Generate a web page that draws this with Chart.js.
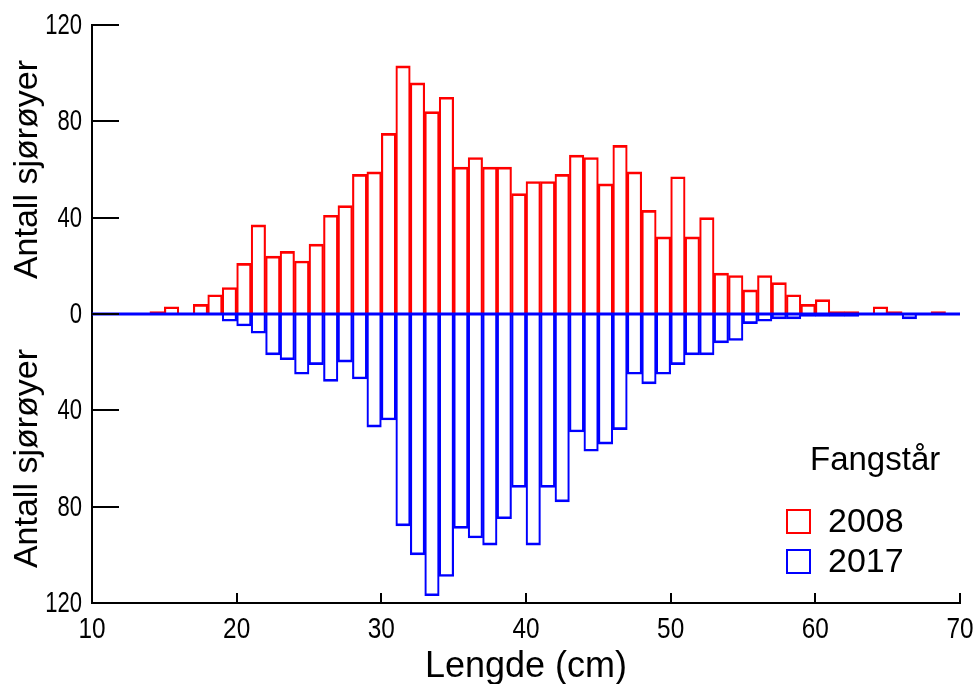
<!DOCTYPE html>
<html>
<head>
<meta charset="utf-8">
<script src="https://cdn.jsdelivr.net/npm/chart.js@4.4.1/dist/chart.umd.min.js"></script>
<style>
  html, body { margin: 0; padding: 0; background: #ffffff; }
  #wrap { width: 979px; height: 684px; position: relative; }
</style>
</head>
<body>
<div id="wrap"><canvas id="c" width="979" height="684"></canvas></div>
<script>
// Length bins (cm): bin starts, each bin is [start, start+1)
const binStarts = [10,11,12,13,14,15,16,17,18,19,20,21,22,23,24,25,26,27,28,29,
                   30,31,32,33,34,35,36,37,38,39,40,41,42,43,44,45,46,47,48,49,
                   50,51,52,53,54,55,56,57,58,59,60,61,62,63,64,65,66,67,68,69];
// Number of fish, catch year 2008 (drawn upward)
const count2008 = [0,0,0,0,1,3,0,4,8,11,21,37,24,26,22,29,41,45,58,59,
                   75,103,96,84,90,61,65,61,61,50,55,55,58,66,65,54,70,59,43,32,
                   57,32,40,17,16,10,16,13,8,4,6,1,1,0,3,1,0,0,1,0];
// Number of fish, catch year 2017 (drawn downward)
const count2017 = [0,0,0,0,0,0,0,0,0,3,5,8,17,19,25,21,28,20,27,47,
                   44,88,100,117,109,89,93,96,85,72,96,72,78,49,57,54,48,25,29,25,
                   21,17,17,12,11,4,3,2,2,1,1,1,1,0,0,0,2,0,0,0];
const seriesNames = ['2008', '2017'];
const seriesColors = ['#ff0000', '#0000ff'];
const legendTitle = 'Fangstår';
const yTitle = 'Antall sjørøyer';
const xTitle = 'Lengde (cm)';
const xRange = [10, 70];
const yTicks = [-120, -80, -40, 0, 40, 80, 120];
const xTicks = [10, 20, 30, 40, 50, 60, 70];

const FAMILY = "'Liberation Sans', Arial, sans-serif";

const data2008 = binStarts.map((s, i) => ({ x: s + 0.5, y: count2008[i] }));
const data2017 = binStarts.map((s, i) => ({ x: s + 0.5, y: -count2017[i] }));

const barCommon = {
  type: 'bar',
  backgroundColor: 'rgba(255,255,255,0)',
  barPercentage: 1.0,
  categoryPercentage: 1.0,
  grouped: false
};

function squeezedText(ctx, text, x, y, scaleX, align) {
  ctx.save();
  ctx.translate(x, y);
  ctx.scale(scaleX, 1);
  ctx.textAlign = align;
  ctx.fillText(text, 0, 0);
  ctx.restore();
}

const extras = {
  id: 'extras',
  afterDatasetsDraw(chart) {
    const ctx = chart.ctx;
    const xs = chart.scales.x, ys = chart.scales.y;
    const ca = chart.chartArea;
    ctx.save();
    // inward ticks
    ctx.strokeStyle = '#000';
    ctx.lineWidth = 2;
    yTicks.forEach(v => {
      const py = Math.round(ys.getPixelForValue(v));
      ctx.beginPath();
      ctx.moveTo(ca.left, py);
      ctx.lineTo(ca.left + 27, py);
      ctx.stroke();
    });
    xTicks.forEach(v => {
      const px = Math.round(xs.getPixelForValue(v));
      ctx.beginPath();
      ctx.moveTo(px, ca.bottom);
      ctx.lineTo(px, ca.bottom - 10);
      ctx.stroke();
    });
    // tick labels (condensed)
    ctx.fillStyle = '#000';
    ctx.textBaseline = 'middle';
    ctx.font = "29px " + FAMILY;
    yTicks.forEach(v => {
      squeezedText(ctx, String(Math.abs(v)), ca.left - 10, ys.getPixelForValue(v) + 1, 0.76, 'right');
    });
    xTicks.forEach(v => {
      squeezedText(ctx, String(v), xs.getPixelForValue(v), ca.bottom + 27, 0.84, 'center');
    });
    // y titles (upper half and lower half)
    ctx.font = "34px " + FAMILY;
    ctx.textAlign = 'center';
    ctx.textBaseline = 'middle';
    [60, -60].forEach(v => {
      ctx.save();
      ctx.translate(28, ys.getPixelForValue(v));
      ctx.rotate(-Math.PI / 2);
      ctx.fillText(yTitle, 0, 0);
      ctx.restore();
    });
    // x title
    ctx.font = "36px " + FAMILY;
    ctx.textBaseline = 'alphabetic';
    ctx.fillText(xTitle, (ca.left + ca.right) / 2, 677);
    // legend
    ctx.font = "33px " + FAMILY;
    ctx.textAlign = 'left';
    ctx.fillText(legendTitle, 810, 470);
    seriesNames.forEach((name, i) => {
      const top = 509 + i * 40;
      ctx.strokeStyle = seriesColors[i];
      ctx.lineWidth = 2;
      ctx.strokeRect(787, top + 1, 23, 23);
      ctx.fillStyle = '#000';
      ctx.textBaseline = 'middle';
      ctx.font = "34px " + FAMILY;
      ctx.fillText(name, 828, top + 14);
    });
    ctx.restore();
  }
};

new Chart(document.getElementById('c'), {
  data: {
    datasets: [
      {
        type: 'line',
        label: 'zero',
        data: [{ x: xRange[0], y: 0 }, { x: xRange[1], y: 0 }],
        borderColor: '#0000ff',
        borderWidth: 3,
        pointRadius: 0,
        fill: false
      },
      Object.assign({ label: seriesNames[0], data: data2008, borderColor: seriesColors[0],
        borderWidth: { top: 2, left: 1.5, right: 1.5, bottom: 0 } }, barCommon),
      Object.assign({ label: seriesNames[1], data: data2017, borderColor: seriesColors[1],
        borderWidth: { top: 0, left: 1.5, right: 1.5, bottom: 2 } }, barCommon)
    ]
  },
  options: {
    responsive: false,
    animation: false,
    events: [],
    layout: { padding: { top: 25, right: 19, left: 0, bottom: 0 } },
    plugins: { legend: { display: false }, tooltip: { enabled: false } },
    scales: {
      x: {
        type: 'linear',
        min: xRange[0], max: xRange[1],
        offset: false,
        afterFit: s => { s.height = 81; },
        afterBuildTicks: s => { s.ticks = xTicks.map(v => ({ value: v })); },
        ticks: { display: false },
        grid: { display: true, drawOnChartArea: false, drawTicks: false, offset: false },
        border: { display: true, color: '#000', width: 2 }
      },
      y: {
        type: 'linear',
        min: -120, max: 120,
        afterFit: s => { s.width = 92; },
        afterBuildTicks: s => { s.ticks = yTicks.map(v => ({ value: v })); },
        ticks: { display: false },
        grid: { display: true, drawOnChartArea: false, drawTicks: false },
        border: { display: true, color: '#000', width: 2 }
      }
    }
  },
  plugins: [extras]
});
</script>
</body>
</html>
